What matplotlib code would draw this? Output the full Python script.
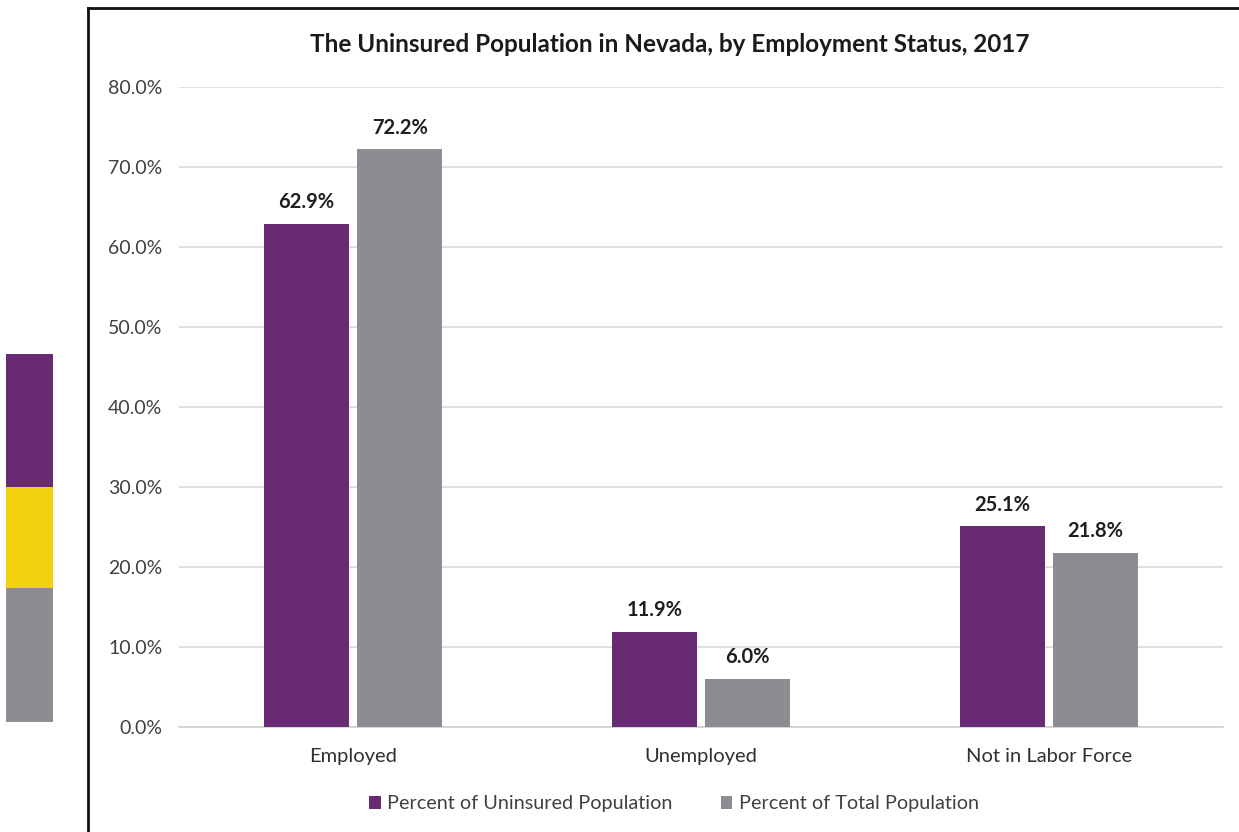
import matplotlib
matplotlib.use("Agg")
import matplotlib.pyplot as plt
from matplotlib.patches import Rectangle
import numpy as np

plt.rcParams['font.family'] = ['Lato', 'DejaVu Sans']

categories = ["Employed", "Unemployed", "Not in Labor Force"]
uninsured = [62.9, 11.9, 25.1]
total = [72.2, 6.0, 21.8]
series_names = ["Percent of Uninsured Population", "Percent of Total Population"]
yticks = [0, 10, 20, 30, 40, 50, 60, 70, 80]

PURPLE = "#672A73"
GRAY = "#8E8C93"
YELLOW = "#F2D20E"

W, H = 1239, 832
fig = plt.figure(figsize=(W / 100, H / 100), dpi=100)

# side colour strip
for (y0, y1, c) in [(354, 487, PURPLE), (487, 588, YELLOW), (588, 722, GRAY)]:
    fig.add_artist(Rectangle((6 / W, 1 - y1 / H), 47 / W, (y1 - y0) / H,
                             transform=fig.transFigure, color=c, lw=0))

# chart frame (left and top edges)
fig.add_artist(plt.Line2D([88 / W, 88 / W], [0, 1 - 8 / H], transform=fig.transFigure,
                          color="#111111", lw=2))
fig.add_artist(plt.Line2D([88 / W, 1], [1 - 8 / H, 1 - 8 / H], transform=fig.transFigure,
                          color="#111111", lw=2))

ax = fig.add_axes([179 / W, 1 - 727 / H, (1223 - 179) / W, (727 - 87) / H])
x = np.arange(len(categories))
bw = 0.245
off = 0.134
b1 = ax.bar(x - off, uninsured, bw, color=PURPLE, label=series_names[0], zorder=3)
b2 = ax.bar(x + off, total, bw, color=GRAY, label=series_names[1], zorder=3)

for bars, vals in [(b1, uninsured), (b2, total)]:
    for r, v in zip(bars, vals):
        ax.text(r.get_x() + r.get_width() / 2, v + 2.7, f"{v:.1f}%", ha="center",
                va="center", fontsize=14.5, fontweight="bold", color="#1e1e1e")

ax.set_xlim(-0.5, 2.5)
ax.set_ylim(0, 80)
ax.set_yticks(yticks)
ax.set_yticklabels([f"{t:.1f}%" for t in yticks], fontsize=14, color="#404040")
ax.set_xticks(x)
ax.set_xticklabels(categories, fontsize=14.5, color="#303030")
ax.tick_params(axis="both", length=0)
ax.tick_params(axis="y", pad=12)
ax.tick_params(axis="x", pad=15)
ax.grid(axis="y", color="#D9D9D9", lw=1.2, zorder=0)
for s in ["top", "right", "left"]:
    ax.spines[s].set_visible(False)
ax.spines["bottom"].set_color("#D0D0D0")
ax.spines["bottom"].set_linewidth(1.2)

fig.text(670 / W, 1 - 45 / H, "The Uninsured Population in Nevada, by Employment Status, 2017",
         ha="center", va="center", fontsize=17.5, fontweight="bold", color="#1a1a1a")

ax.legend(loc="center", bbox_to_anchor=((674 - 179) / (1223 - 179), (727 - 804) / (727 - 87)),
          ncol=2, frameon=False, fontsize=14.3, handlelength=0.6, handleheight=0.6,
          handletextpad=0.35, columnspacing=2.4, labelcolor="#404040")

fig.savefig("out.png", dpi=100)
